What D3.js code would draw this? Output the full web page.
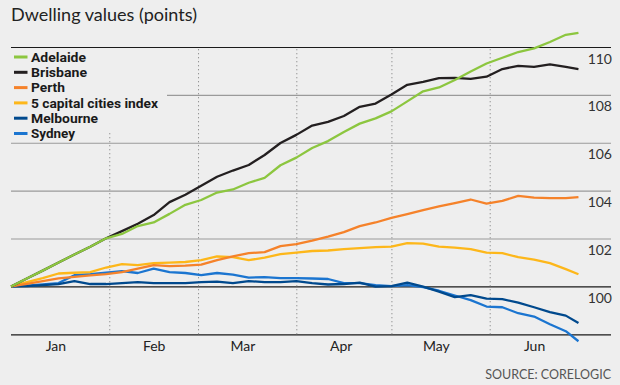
<!DOCTYPE html>
<html>

<head>
  <meta charset="utf-8">
  <title></title>
  <style>
    body { margin: 0; background: #eeeeee; }
    svg { display: block; }
  </style>
</head>

<body>


  <script src="https://cdn.jsdelivr.net/npm/d3@7"></script>
  <script type="text/javascript">
    // every 5 days, Jan 1 to Jun 29
    var dates = ["2022-01-01", "2022-01-06", "2022-01-11", "2022-01-16", "2022-01-21", "2022-01-26",
      "2022-01-31", "2022-02-05", "2022-02-10", "2022-02-15", "2022-02-20", "2022-02-25",
      "2022-03-02", "2022-03-07", "2022-03-12", "2022-03-17", "2022-03-22", "2022-03-27",
      "2022-04-01", "2022-04-06", "2022-04-11", "2022-04-16", "2022-04-21", "2022-04-26",
      "2022-05-01", "2022-05-06", "2022-05-11", "2022-05-16", "2022-05-21", "2022-05-26",
      "2022-05-31", "2022-06-05", "2022-06-10", "2022-06-15", "2022-06-20", "2022-06-25", "2022-06-29"];

    var adelaide = [100.0, 100.33, 100.66, 101.0, 101.33, 101.66, 102.01, 102.19, 102.52, 102.67, 103.03, 103.41,
      103.61, 103.92, 104.05, 104.33, 104.53, 105.06, 105.38, 105.78, 106.07, 106.45, 106.8, 107.02,
      107.31, 107.73, 108.15, 108.31, 108.62, 108.98, 109.31, 109.55, 109.79, 109.94, 110.21, 110.51, 110.59];
    var brisbane = [100.0, 100.33, 100.66, 101.0, 101.33, 101.66, 102.01, 102.31, 102.62, 102.98, 103.52, 103.83,
      104.2, 104.58, 104.84, 105.07, 105.49, 105.99, 106.33, 106.72, 106.87, 107.12, 107.5, 107.64,
      108.02, 108.42, 108.54, 108.7, 108.71, 108.67, 108.76, 109.08, 109.21, 109.17, 109.27, 109.17, 109.08];
    var perth = [100.0, 100.11, 100.22, 100.34, 100.4, 100.46, 100.51, 100.6, 100.74, 100.89, 100.85, 100.87,
      100.91, 101.1, 101.25, 101.39, 101.43, 101.68, 101.77, 101.91, 102.08, 102.27, 102.52, 102.67,
      102.86, 103.02, 103.19, 103.34, 103.48, 103.63, 103.46, 103.57, 103.78, 103.71, 103.69, 103.69, 103.73];
    var capitals = [100.0, 100.18, 100.35, 100.54, 100.57, 100.6, 100.79, 100.93, 100.89, 100.97, 100.99, 101.02,
      101.1, 101.25, 101.22, 101.1, 101.2, 101.35, 101.41, 101.48, 101.5, 101.56, 101.6, 101.64,
      101.66, 101.81, 101.79, 101.66, 101.62, 101.56, 101.41, 101.39, 101.22, 101.12, 100.97, 100.72, 100.51];
    var melbourne = [100.0, 100.01, 100.05, 100.1, 100.22, 100.1, 100.1, 100.14, 100.18, 100.14, 100.14, 100.14,
      100.18, 100.2, 100.14, 100.22, 100.18, 100.18, 100.22, 100.14, 100.08, 100.1, 100.16, 99.99,
      100.01, 100.16, 99.99, 99.78, 99.55, 99.64, 99.49, 99.47, 99.32, 99.13, 98.93, 98.78, 98.47];
    var sydney = [100.0, 100.03, 100.08, 100.14, 100.47, 100.51, 100.58, 100.64, 100.56, 100.74, 100.6, 100.56,
      100.47, 100.56, 100.49, 100.37, 100.39, 100.35, 100.35, 100.33, 100.31, 100.14, 100.14, 100.05,
      100.01, 100.05, 99.97, 99.82, 99.62, 99.43, 99.16, 99.13, 98.88, 98.74, 98.42, 98.13, 97.71];

    var seriesNames = ["Adelaide", "Brisbane", "Perth", "5 capital cities index", "Melbourne", "Sydney"];
    var seriesColors = ["#8cc63f", "#231f20", "#f5822a", "#fdb71a", "#00498d", "#1b75d0"];
    var seriesValues = [adelaide, brisbane, perth, capitals, melbourne, sydney];

    var yTicks = [100, 102, 104, 106, 108, 110];
    var monthStarts = ["2022-02-01", "2022-03-01", "2022-04-01", "2022-05-01", "2022-06-01"];
    var monthLabels = ["2022-01-15", "2022-02-15", "2022-03-15", "2022-04-15", "2022-05-15", "2022-06-15"];

    var width = 620;
    var height = 385;
    var plotLeft = 11, plotRight = 611, plotTop = 47, plotBottom = 334.3;

    var parse = d3.timeParse("%Y-%m-%d");

    var svg = d3.select('body')
      .append("svg")
      .attr("height", height)
      .attr("width", width);

    svg.append("rect").attr("width", width).attr("height", height).attr("fill", "#eeeeee");

    var x = d3.scaleTime()
      .domain([parse("2022-01-01"), parse("2022-07-01")])
      .range([plotLeft, 584.8]);
    var y = d3.scaleLinear()
      .domain([98, 110])
      .range([plotBottom, plotTop]);

    // title
    svg.append("text")
      .attr("x", 11)
      .attr("y", 20.5)
      .attr("font-family", "Lato")
      .attr("font-size", 18)
      .attr("fill", "#222")
      .attr("textLength", 186)
      .attr("lengthAdjust", "spacingAndGlyphs")
      .text("Dwelling values (points)");

    // horizontal grid
    var grid = svg.append("g")
      .attr("transform", "translate(" + plotLeft + ",0)")
      .call(d3.axisLeft(y).tickValues([98].concat(yTicks)).tickSize(-(plotRight - plotLeft)).tickFormat(""));
    grid.select(".domain").remove();
    grid.selectAll(".tick line")
      .attr("stroke", function(d) {
        return (d == 100 || d == 110 || d == 98) ? "#1a1a1a" : "#9a9a9a";
      })
      .attr("stroke-width", function(d) {
        return d == 98 ? 1.3 : 1.1;
      })
      .attr("x1", function(d) {
        return d == 108 ? 156 : 0;
      });

    // dotted month lines
    var vgrid = svg.append("g")
      .attr("transform", "translate(0," + plotBottom + ")")
      .call(d3.axisBottom(x).tickValues(monthStarts.map(parse)).tickSize(-(plotBottom - plotTop)).tickFormat(""));
    vgrid.select(".domain").remove();
    vgrid.selectAll(".tick line")
      .attr("stroke", "#8a8a8a")
      .attr("stroke-width", 1)
      .attr("stroke-dasharray", "1.2,2.8")
      .attr("y2", function(d, i) {
        return i == 0 ? -(plotBottom - 131) : -(plotBottom - plotTop);
      });

    // month labels
    var xAxis = svg.append("g")
      .attr("transform", "translate(0," + plotBottom + ")")
      .call(d3.axisBottom(x).tickValues(monthLabels.map(parse)).tickSize(0).tickPadding(0).tickFormat(d3.timeFormat("%b")));
    xAxis.select(".domain").remove();
    xAxis.selectAll("text")
      .attr("y", 17)
      .attr("dy", 0)
      .attr("font-family", "Lato")
      .attr("font-size", 14)
      .attr("fill", "#222");

    // value labels, right aligned under gridlines
    var yAxis = svg.append("g")
      .attr("transform", "translate(612,0)")
      .call(d3.axisLeft(y).tickValues(yTicks).tickSize(0).tickPadding(0));
    yAxis.select(".domain").remove();
    yAxis.selectAll("text")
      .attr("dy", 0)
      .attr("y", 16)
      .attr("font-family", "Lato")
      .attr("font-size", 14)
      .attr("fill", "#333");

    // lines, drawn back to front
    var line = d3.line()
      .x(function(d) { return x(d.date); })
      .y(function(d) { return y(d.value); });

    var drawOrder = [5, 4, 3, 2, 1, 0];
    drawOrder.forEach(function(i) {
      var pts = dates.map(function(dt, j) {
        return { date: parse(dt), value: seriesValues[i][j] };
      });
      svg.append("path")
        .datum(pts)
        .attr("fill", "none")
        .attr("stroke", seriesColors[i])
        .attr("stroke-width", 2.3)
        .attr("stroke-linejoin", "round")
        .attr("d", line);
    });

    // legend
    var legendWidths = [55, 56, 34, 127, 67, 44];
    var legend = svg.append("g");
    seriesNames.forEach(function(name, i) {
      var cy = 57 + i * 15.3;
      legend.append("line")
        .attr("x1", 14).attr("x2", 27.5)
        .attr("y1", cy).attr("y2", cy)
        .attr("stroke", seriesColors[i])
        .attr("stroke-width", 3);
      legend.append("text")
        .attr("x", 31)
        .attr("y", cy + 4.6)
        .attr("font-family", "Roboto")
        .attr("font-weight", "bold")
        .attr("font-size", 13)
        .attr("fill", "#1a1a1a")
        .attr("textLength", legendWidths[i])
        .attr("lengthAdjust", "spacingAndGlyphs")
        .text(name);
    });

    // source
    svg.append("text")
      .attr("x", 611)
      .attr("y", 378.5)
      .attr("text-anchor", "end")
      .attr("font-family", "Lato")
      .attr("font-size", 12.5)
      .attr("fill", "#555")
      .text("SOURCE: CORELOGIC");
  </script>
</body>

</html>
